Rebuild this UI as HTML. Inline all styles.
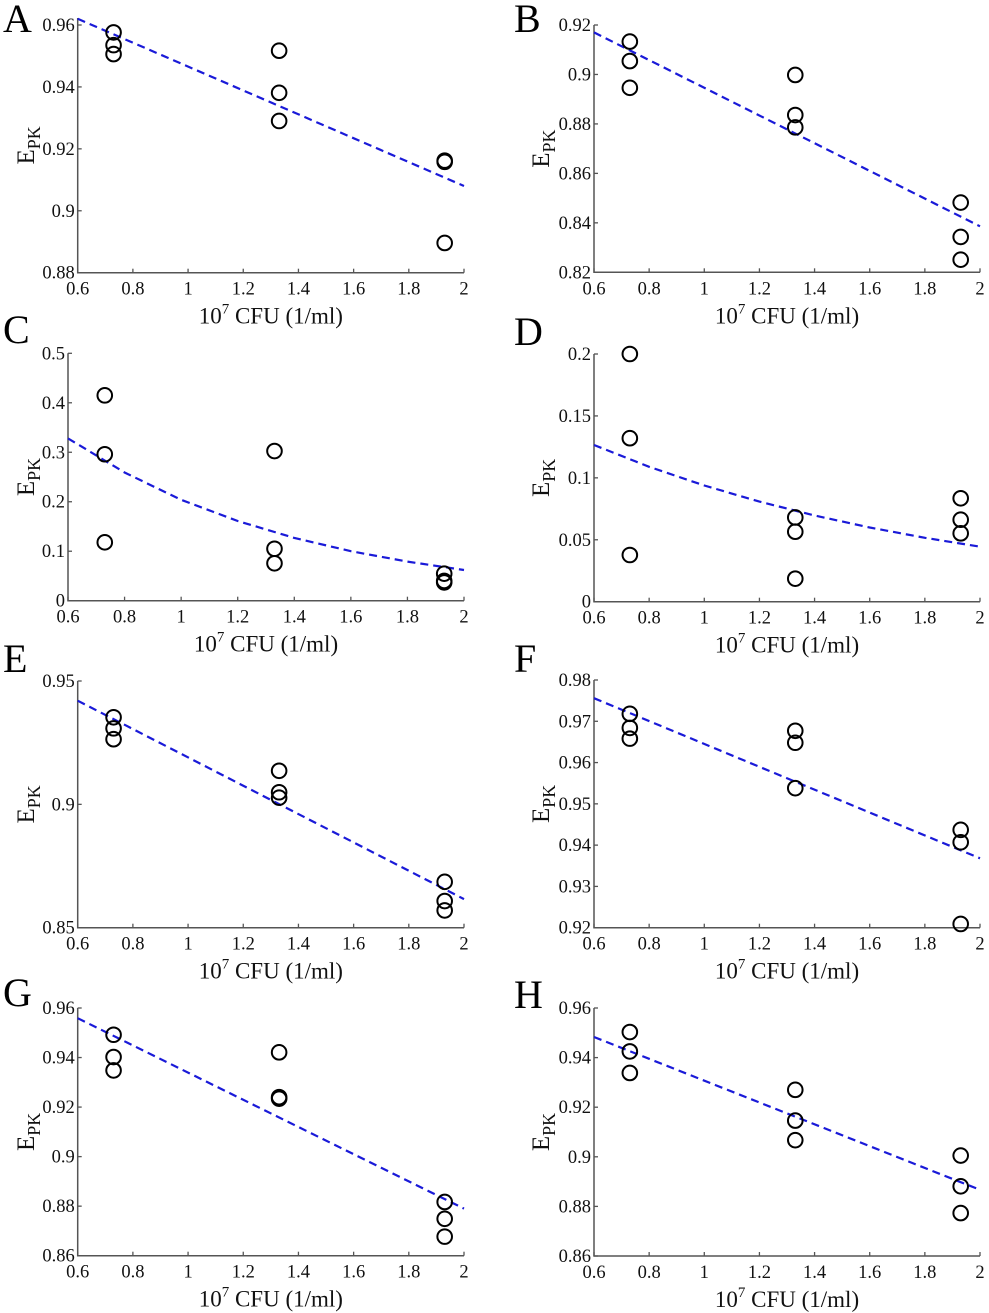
<!DOCTYPE html>
<html><head><meta charset="utf-8"><style>
html,body{margin:0;padding:0;background:#fff;}
svg{display:block;}
svg text{font-family:"Liberation Serif","Times New Roman",serif;}
</style></head><body>
<svg id="fig" width="989" height="1313" viewBox="0 0 989 1313" xmlns="http://www.w3.org/2000/svg"></svg>
<script>
// shared x data
const xCats = [0.73, 1.33, 1.93];
const xTickVals = [0.6, 0.8, 1.0, 1.2, 1.4, 1.6, 1.8, 2.0];
const xTickLabels = ["0.6","0.8","1","1.2","1.4","1.6","1.8","2"];

// Panel A
const aValues = [[0.9576,0.9535,0.9506],[0.9517,0.9381,0.9290],[0.9162,0.9158,0.8896]];
const aFitX = [0.6, 2.0];
const aFitY = [0.962, 0.908];
const aTicks = [0.88,0.90,0.92,0.94,0.96];
const aTickLabels = ["0.88","0.9","0.92","0.94","0.96"];
// Panel B
const bValues = [[0.9133,0.9054,0.8946],[0.8998,0.8836,0.8786],[0.8482,0.8343,0.8251]];
const bFitX = [0.6, 2.0];
const bFitY = [0.917, 0.8386];
const bTicks = [0.82,0.84,0.86,0.88,0.90,0.92];
const bTickLabels = ["0.82","0.84","0.86","0.88","0.9","0.92"];
// Panel C
const cValues = [[0.415,0.296,0.118],[0.3025,0.105,0.0756],[0.0546,0.040,0.037]];
const cFitX = [0.6,0.8,1.0,1.2,1.4,1.6,1.8,2.0];
const cFitY = [0.328,0.259,0.204,0.161,0.127,0.100,0.079,0.062];
const cTicks = [0,0.1,0.2,0.3,0.4,0.5];
const cTickLabels = ["0","0.1","0.2","0.3","0.4","0.5"];
// Panel D
const dValues = [[0.200,0.132,0.0377],[0.068,0.0565,0.0186],[0.0835,0.0662,0.0552]];
const dFitX = [0.6,0.8,1.0,1.2,1.4,1.6,1.8,2.0];
const dFitY = [0.1265,0.1089,0.0938,0.0808,0.0696,0.0599,0.0516,0.0444];
const dTicks = [0,0.05,0.1,0.15,0.2];
const dTickLabels = ["0","0.05","0.1","0.15","0.2"];
// Panel E
const eValues = [[0.9353,0.9308,0.9264],[0.9136,0.9049,0.9027],[0.8686,0.8608,0.8570]];
const eFitX = [0.6, 2.0];
const eFitY = [0.942, 0.8616];
const eTicks = [0.85,0.90,0.95];
const eTickLabels = ["0.85","0.9","0.95"];
// Panel F
const fValues = [[0.9718,0.9684,0.9658],[0.9677,0.9648,0.9538],[0.9437,0.9407,0.9209]];
const fFitX = [0.6, 2.0];
const fFitY = [0.9756, 0.9368];
const fTicks = [0.92,0.93,0.94,0.95,0.96,0.97,0.98];
const fTickLabels = ["0.92","0.93","0.94","0.95","0.96","0.97","0.98"];
// Panel G
const gValues = [[0.9492,0.9402,0.9348],[0.9421,0.9240,0.9234],[0.8817,0.8749,0.8677]];
const gFitX = [0.6, 2.0];
const gFitY = [0.9559, 0.879];
const gTicks = [0.86,0.88,0.90,0.92,0.94,0.96];
const gTickLabels = ["0.86","0.88","0.9","0.92","0.94","0.96"];
// Panel H
const hValues = [[0.9503,0.9425,0.9338],[0.9270,0.9146,0.9067],[0.9005,0.8881,0.8773]];
const hFitX = [0.6, 2.0];
const hFitY = [0.9483, 0.8867];
const hTicks = [0.86,0.88,0.90,0.92,0.94,0.96];
const hTickLabels = ["0.86","0.88","0.9","0.92","0.94","0.96"];

const NS = "http://www.w3.org/2000/svg";
const FONT = '"Liberation Serif","Times New Roman",serif';
const svg = document.getElementById('fig');
function mk(tag, attrs, parent){
  const e = document.createElementNS(NS, tag);
  for (const k in attrs) e.setAttribute(k, attrs[k]);
  if (tag === 'text') e.setAttribute('font-family', FONT);
  (parent||svg).appendChild(e);
  return e;
}

const panels = [
  {id:'a', letter:'A', vals:aValues, fx:aFitX, fy:aFitY, ticks:aTicks, tl:aTickLabels, L:77.7, R:464, yb:272.7, yt:25, axTop:18, lx:3, ly:32, ylx:26},
  {id:'b', letter:'B', vals:bValues, fx:bFitX, fy:bFitY, ticks:bTicks, tl:bTickLabels, L:594, R:980, yb:272.3, yt:25, axTop:25, lx:514, ly:32, ylx:541},
  {id:'c', letter:'C', vals:cValues, fx:cFitX, fy:cFitY, ticks:cTicks, tl:cTickLabels, L:68, R:464, yb:600.7, yt:353.3, axTop:353.3, lx:3, ly:343, ylx:26},
  {id:'d', letter:'D', vals:dValues, fx:dFitX, fy:dFitY, ticks:dTicks, tl:dTickLabels, L:594, R:980, yb:601.7, yt:354, axTop:354, lx:514, ly:345, ylx:541},
  {id:'e', letter:'E', vals:eValues, fx:eFitX, fy:eFitY, ticks:eTicks, tl:eTickLabels, L:77.7, R:464, yb:927.7, yt:681, axTop:681, lx:3, ly:672, ylx:26},
  {id:'f', letter:'F', vals:fValues, fx:fFitX, fy:fFitY, ticks:fTicks, tl:fTickLabels, L:594, R:980, yb:927.7, yt:680, axTop:680, lx:514, ly:672, ylx:541},
  {id:'g', letter:'G', vals:gValues, fx:gFitX, fy:gFitY, ticks:gTicks, tl:gTickLabels, L:77.7, R:464, yb:1255.7, yt:1008, axTop:1008, lx:3, ly:1006, ylx:26},
  {id:'h', letter:'H', vals:hValues, fx:hFitX, fy:hFitY, ticks:hTicks, tl:hTickLabels, L:594, R:980, yb:1256, yt:1008, axTop:1008, lx:514, ly:1008, ylx:541}
];

panels.forEach(p => {
  const ymin = p.ticks[0], ymax = p.ticks[p.ticks.length-1];
  const X = v => p.L + (v - 0.6) / 1.4 * (p.R - p.L);
  const Y = v => p.yb - (v - ymin) / (ymax - ymin) * (p.yb - p.yt);
  const g = mk('g', {});
  
  

  const letter = mk('text', {x:p.lx, y:p.ly, 'font-size':40, fill:'#000'}, g);
  letter.textContent = p.letter;
  
  

  const axis = mk('path', {d:`M${p.L},${p.axTop} L${p.L},${p.yb} L${p.R},${p.yb}`, fill:'none', stroke:'#555', 'stroke-width':1.5}, g);
  
  

  xTickVals.forEach((v,i) => {
    const x = X(v);
    const t = mk('line', {x1:x, x2:x, y1:p.yb, y2:p.yb-4, stroke:'#555', 'stroke-width':1.3}, g);
    
    
    const lb = mk('text', {x:x, y:p.yb+22, 'font-size':18.5, 'text-anchor':'middle', fill:'#111'}, g);
    lb.textContent = xTickLabels[i];
    
    
  });
  p.ticks.forEach((v,i) => {
    const y = Y(v);
    const t = mk('line', {x1:p.L, x2:p.L+4, y1:y, y2:y, stroke:'#555', 'stroke-width':1.3}, g);
    
    
    const lb = mk('text', {x:p.L-3, y:y+6, 'font-size':18.5, 'text-anchor':'end', fill:'#111'}, g);
    lb.textContent = p.tl[i];
    
    
  });

  const xl = mk('text', {x:(p.L+p.R)/2, y:p.yb+51, 'font-size':23, 'text-anchor':'middle', fill:'#111'}, g);
  xl.innerHTML = '10<tspan dy="-10" font-size="15">7</tspan><tspan dy="10"> CFU (1/ml)</tspan>';
  
  

  const cy = (p.axTop + p.yb) / 2;
  const yl = mk('text', {x:0, y:0, 'font-size':25, 'text-anchor':'middle', fill:'#111', transform:`translate(${p.ylx+8},${cy}) rotate(-90)`}, g);
  yl.innerHTML = 'E<tspan dy="6" font-size="18">PK</tspan>';
  
  

  const d = p.fx.map((v,i) => (i?'L':'M') + X(v).toFixed(1) + ',' + Y(p.fy[i]).toFixed(1)).join(' ');
  const fit = mk('path', {d:d, fill:'none', stroke:'#1a1ad8', 'stroke-width':2.2, 'stroke-dasharray':'8 5'}, g);
  
  

  p.vals.forEach((grp, gi) => {
    grp.forEach(v => {
      const c = mk('circle', {cx:X(xCats[gi]), cy:Y(v), r:7.3, fill:'none', stroke:'#000', 'stroke-width':2}, g);
      
      
    });
  });
});
</script>
</body></html>
